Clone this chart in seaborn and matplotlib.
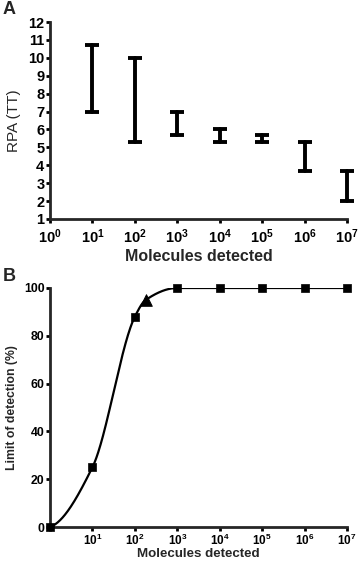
import seaborn as sns
import matplotlib.pyplot as plt
import numpy as np
import pandas as pd

# Panel A: RPA (TT) range per number of molecules
molecules_a = [1e1, 1e2, 1e3, 1e4, 1e5, 1e6, 1e7]
rpa_low = [7.0, 5.3, 5.7, 5.3, 5.3, 3.7, 2.0]
rpa_high = [10.7, 10.0, 7.0, 6.0, 5.7, 5.3, 3.7]

# Panel B: limit of detection
molecules_b = [1, 10, 100, 180, 1e3, 1e4, 1e5, 1e6, 1e7]
lod = [0, 25, 88, 95, 100, 100, 100, 100, 100]
shape = ["sq", "sq", "sq", "tri", "sq", "sq", "sq", "sq", "sq"]

sns.set_style("ticks")
plt.rcParams['font.family'] = ['Liberation Sans', 'DejaVu Sans']
plt.rcParams['font.weight'] = 'bold'
plt.rcParams['mathtext.fontset'] = 'custom'
plt.rcParams['mathtext.rm'] = 'Liberation Sans:bold'
plt.rcParams['mathtext.bf'] = 'Liberation Sans:bold'
plt.rcParams['mathtext.it'] = 'Liberation Sans:bold'


def pchip(x, y, xq):
    # monotone cubic interpolation (Fritsch-Carlson)
    h = np.diff(x)
    d = np.diff(y) / h
    m = np.zeros_like(y)
    for i in range(1, len(x) - 1):
        if d[i - 1] * d[i] > 0:
            w1 = 2 * h[i] + h[i - 1]
            w2 = h[i] + 2 * h[i - 1]
            m[i] = (w1 + w2) / (w1 / d[i - 1] + w2 / d[i])
    m[0] = max(0, ((2 * h[0] + h[1]) * d[0] - h[0] * d[1]) / (h[0] + h[1]))
    m[-1] = 0
    idx = np.clip(np.searchsorted(x, xq) - 1, 0, len(h) - 1)
    t = (xq - x[idx]) / h[idx]
    h00 = 2 * t**3 - 3 * t**2 + 1
    h10 = t**3 - 2 * t**2 + t
    h01 = -2 * t**3 + 3 * t**2
    h11 = t**3 - t**2
    return (h00 * y[idx] + h10 * h[idx] * m[idx]
            + h01 * y[idx + 1] + h11 * h[idx] * m[idx + 1])


fig = plt.figure(figsize=(3.58, 5.62), dpi=100)
ax1 = fig.add_axes([50/358, 1-219/562, 297/358, 197/562])
ax2 = fig.add_axes([50/358, 1-527/562, 297/358, 239/562])

# ---- A ----
dfa = pd.DataFrame({
    "molecules": molecules_a * 2,
    "rpa": rpa_low + rpa_high,
})
ax1.set_xscale("log")
sns.lineplot(data=dfa, x="molecules", y="rpa", ax=ax1, color="black",
             estimator="mean", errorbar=("pi", 100), err_style="bars",
             linestyle="none",
             err_kws=dict(capsize=5, capthick=2.8, elinewidth=2.8, clip_on=False))
ax1.set_xlim(1, 1e7)
ax1.set_ylim(1, 12)
ax1.set_yticks(range(1, 13))
ax1.set_xticks([10.0**k for k in range(8)])
ax1.set_xticklabels([r"$10^{%d}$" % k for k in range(8)], fontsize=10.5)
ax1.minorticks_off()
ax1.tick_params(axis="y", labelsize=10.5, pad=1)
ax1.tick_params(axis="x", pad=3)
ax1.set_xlabel("Molecules detected", fontsize=11.5, fontweight="bold", labelpad=2)
ax1.set_ylabel("RPA (TT)", fontsize=11, fontweight="normal", labelpad=5)

# ---- B ----
xb = np.log10(np.array(molecules_b, dtype=float))
yb = np.array(lod, dtype=float)
xfit = np.linspace(0, 7, 500)
yfit = pchip(xb, yb, xfit)

ax2.set_xscale("log")
sns.lineplot(x=10**xfit, y=yfit, ax=ax2, color="black", linewidth=1.6)
dfb = pd.DataFrame({"molecules": molecules_b, "lod": lod, "shape": shape})
sq = dfb[dfb["shape"] == "sq"]
tri = dfb[dfb["shape"] == "tri"]
sns.scatterplot(data=sq, x="molecules", y="lod", ax=ax2, marker="s", s=38,
                color="black", edgecolor="black", clip_on=False, zorder=5)
sns.scatterplot(data=tri, x="molecules", y="lod", ax=ax2, marker="^", s=70,
                color="black", edgecolor="black", clip_on=False, zorder=5)
ax2.set_xlim(1, 1e7)
ax2.set_ylim(0, 100)
ax2.set_yticks([0, 20, 40, 60, 80, 100])
ax2.set_xticks([10.0**k for k in range(8)])
ax2.set_xticklabels([""] + [r"$10^{%d}$" % k for k in range(1, 8)], fontsize=8.5)
ax2.minorticks_off()
ax2.tick_params(axis="y", labelsize=8.8, pad=1)
ax2.tick_params(axis="x", pad=1.5)
ax2.set_xlabel("Molecules detected", fontsize=9.6, fontweight="bold", labelpad=0)
ax2.set_ylabel("Limit of detection (%)", fontsize=8.8, fontweight="bold", labelpad=4)

for ax in (ax1, ax2):
    sns.despine(ax=ax)
    for sp in ("left", "bottom"):
        ax.spines[sp].set_linewidth(2)
    ax.tick_params(width=2, length=3, color="black", labelcolor="black")
    plt.setp(ax.get_yticklabels(), fontweight="bold")
    ax.set_facecolor("white")

fig.text(3/358, 1-1/562, "A", fontsize=13, fontweight="bold", va="top", ha="left")
fig.text(3/358, 1-268/562, "B", fontsize=13, fontweight="bold", va="top", ha="left")

fig.savefig("out.png", dpi=100, facecolor="white")
